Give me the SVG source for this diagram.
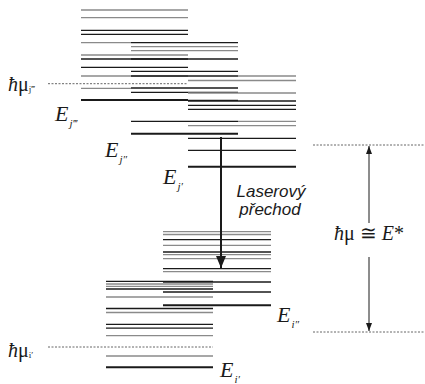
<svg xmlns="http://www.w3.org/2000/svg" width="425" height="384" viewBox="0 0 425 384">
<style>
.k{stroke:#1a1a1a;stroke-width:1.3;fill:none}
.g{stroke:#8a8a8a;stroke-width:1.3;fill:none}
.t{stroke:#1a1a1a;stroke-width:2;fill:none}
.d{stroke:#666;stroke-width:1;stroke-dasharray:2 1.5;fill:none}
.ar{stroke:#1a1a1a;fill:none}
.e{font-family:"Liberation Serif","DejaVu Serif",serif;font-style:italic;font-size:22px;fill:#1a1a1a}
.s{font-family:"Liberation Serif","DejaVu Serif",serif;font-style:italic;font-size:11px;fill:#1a1a1a}
.h{font-family:"Liberation Serif","DejaVu Serif",serif;font-size:20px;fill:#1a1a1a}
.hs{font-family:"Liberation Serif","DejaVu Serif",serif;font-size:9px;fill:#1a1a1a}
.l{font-family:"Liberation Sans",Arial,sans-serif;font-style:italic;font-size:17px;fill:#1a1a1a}
</style>
<defs>
<marker id="big" viewBox="0 0 12 10" refX="12" refY="5" markerWidth="12" markerHeight="10" markerUnits="userSpaceOnUse" orient="auto">
<path d="M0,0 L12,5 L0,10 Z" fill="#1a1a1a"/>
</marker>
<marker id="sm" viewBox="0 0 8 6" refX="8" refY="3" markerWidth="8" markerHeight="6" markerUnits="userSpaceOnUse" orient="auto-start-reverse">
<path d="M0,0 L8,3 L0,6 Z" fill="#1a1a1a"/>
</marker>
</defs>
<rect width="425" height="384" fill="#fff"/>

<g id="level-j3">
<line class="g" x1="81" y1="10" x2="188" y2="10"/>
<line class="g" x1="81" y1="17.7" x2="188" y2="17.7"/>
<line class="k" x1="81" y1="30.3" x2="188" y2="30.3"/>
<line class="k" x1="81" y1="34.3" x2="188" y2="34.3"/>
<line class="g" x1="81" y1="42.7" x2="131" y2="42.7"/>
<line class="g" x1="81" y1="55" x2="188" y2="55"/>
<line class="k" x1="81" y1="59" x2="188" y2="59"/>
<line class="k" x1="81" y1="67.3" x2="188" y2="67.3"/>
<line class="g" x1="81" y1="76" x2="188" y2="76"/>
<line class="g" x1="81" y1="88.3" x2="131" y2="88.3"/>
<line class="t" x1="81" y1="100" x2="188" y2="100"/>
</g>

<g id="level-j2">
<line class="k" x1="131" y1="42.7" x2="238" y2="42.7"/>
<line class="g" x1="131" y1="46.7" x2="238" y2="46.7"/>
<line class="g" x1="131" y1="50.7" x2="238" y2="50.7"/>
<line class="k" x1="131" y1="59" x2="238" y2="59"/>
<line class="k" x1="131" y1="71.3" x2="238" y2="71.3"/>
<line class="k" x1="131" y1="76" x2="238" y2="76"/>
<line class="k" x1="131" y1="88" x2="238" y2="88"/>
<line class="k" x1="131" y1="92.3" x2="238" y2="92.3"/>
<line class="k" x1="131" y1="100.3" x2="238" y2="100.3"/>
<line class="k" x1="131" y1="121.3" x2="238" y2="121.3"/>
<line class="t" x1="131" y1="133.7" x2="238" y2="133.7"/>
</g>

<g id="level-j1">
<line class="g" x1="238" y1="76" x2="296" y2="76"/>
<line class="g" x1="188" y1="80.5" x2="296" y2="80.5"/>
<line class="g" x1="188" y1="93" x2="296" y2="93"/>
<line class="k" x1="188" y1="101" x2="296" y2="101"/>
<line class="k" x1="188" y1="105.3" x2="296" y2="105.3"/>
<line class="k" x1="188" y1="109.3" x2="296" y2="109.3"/>
<line class="g" x1="238" y1="121.3" x2="296" y2="121.3"/>
<line class="g" x1="188" y1="125.7" x2="296" y2="125.7"/>
<line class="k" x1="188" y1="138.3" x2="296" y2="138.3"/>
<line class="k" x1="188" y1="150.3" x2="296" y2="150.3"/>
<line class="t" x1="188" y1="166.7" x2="296" y2="166.7"/>
</g>

<g id="level-i2">
<line class="g" x1="163" y1="231.7" x2="271" y2="231.7"/>
<line class="g" x1="163" y1="234.5" x2="271" y2="234.5"/>
<line class="k" x1="163" y1="239.7" x2="271" y2="239.7"/>
<line class="g" x1="163" y1="245.3" x2="271" y2="245.3"/>
<line class="k" x1="163" y1="252" x2="271" y2="252"/>
<line class="g" x1="163" y1="254.7" x2="271" y2="254.7"/>
<line class="g" x1="163" y1="258.7" x2="271" y2="258.7"/>
<line class="k" x1="163" y1="268.7" x2="271" y2="268.7"/>
<line class="g" x1="163" y1="271.7" x2="271" y2="271.7"/>
<line class="k" x1="163" y1="282" x2="271" y2="282"/>
<line class="k" x1="163" y1="292" x2="271" y2="292"/>
<line class="t" x1="163" y1="305.3" x2="271" y2="305.3"/>
</g>

<g id="level-i1">
<line class="k" x1="106" y1="281.3" x2="213" y2="281.3"/>
<line class="g" x1="106" y1="284" x2="213" y2="284"/>
<line class="g" x1="106" y1="286.4" x2="213" y2="286.4"/>
<line class="k" x1="106" y1="289" x2="213" y2="289"/>
<line class="g" x1="106" y1="297" x2="213" y2="297"/>
<line class="k" x1="106" y1="308.5" x2="213" y2="308.5"/>
<line class="g" x1="106" y1="312.5" x2="213" y2="312.5"/>
<line class="k" x1="106" y1="324.3" x2="213" y2="324.3"/>
<line class="k" x1="106" y1="328.2" x2="213" y2="328.2"/>
<line class="g" x1="106" y1="335.7" x2="213" y2="335.7"/>
<line class="g" x1="106" y1="356" x2="213" y2="356"/>
<line class="t" x1="106" y1="367.2" x2="213" y2="367.2"/>
</g>

<g id="connectors">
<line class="d" x1="48" y1="83.7" x2="188" y2="83.7"/>
<line class="d" x1="48" y1="347" x2="213" y2="347"/>
<line class="d" x1="313" y1="145" x2="425" y2="145"/>
<line class="d" x1="313" y1="332" x2="425" y2="332"/>
<line class="ar" stroke-width="2" x1="221" y1="137" x2="221" y2="268" marker-end="url(#big)"/>
<line class="ar" stroke-width="1" x1="369" y1="223" x2="369" y2="146" marker-end="url(#sm)"/>
<line class="ar" stroke-width="1" x1="369" y1="257" x2="369" y2="331" marker-end="url(#sm)"/>
</g>

<g id="labels">
<text class="h" x="8" y="91"><tspan font-style="italic">ħ</tspan>μ<tspan class="hs" dy="1">j‴</tspan></text>
<text class="h" x="8" y="357"><tspan font-style="italic">ħ</tspan>μ<tspan class="hs" dy="1">i′</tspan></text>
<text class="e" x="55" y="121">E<tspan class="s" dx="1" dy="6">j‴</tspan></text>
<text class="e" x="105" y="157">E<tspan class="s" dx="1" dy="6">j″</tspan></text>
<text class="e" x="163" y="184">E<tspan class="s" dx="1" dy="6">j′</tspan></text>
<text class="e" x="277" y="322">E<tspan class="s" dx="1" dy="6">i″</tspan></text>
<text class="e" x="220" y="377">E<tspan class="s" dx="1" dy="6">i′</tspan></text>
<text class="l" x="271" y="197" text-anchor="middle">Laserový</text>
<text class="l" x="270" y="215" text-anchor="middle">přechod</text>
<text class="h" x="369" y="240" text-anchor="middle" font-size="22"><tspan font-style="italic">ħ</tspan>μ ≅ <tspan font-style="italic">E</tspan>*</text>
</g>
</svg>
